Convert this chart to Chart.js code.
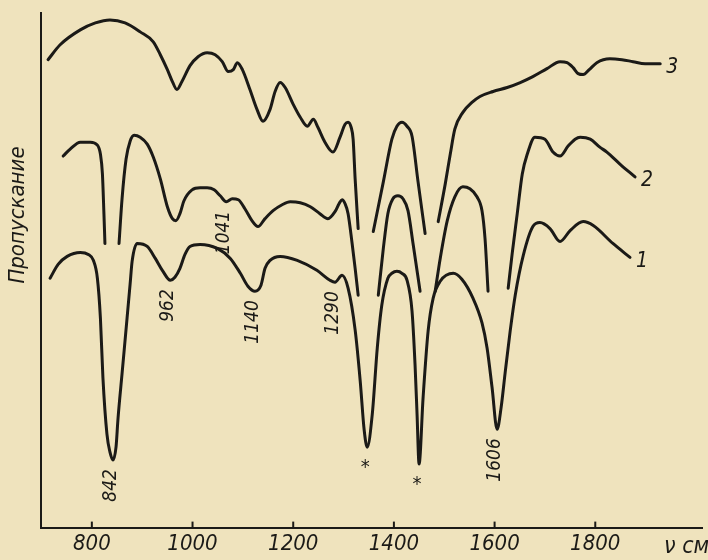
<!DOCTYPE html>
<html>
<head>
<meta charset="utf-8">
<script src="https://cdn.jsdelivr.net/npm/chart.js@4.4.1/dist/chart.umd.min.js"></script>
<style>
  html, body { margin: 0; padding: 0; background: #efe3bd; }
  canvas { display: block; }
</style>
</head>
<body>
<canvas id="c" width="708" height="560"></canvas>
<script>
// ---- data (wavenumber, cm^-1 ; transmission, arbitrary units) ----
const tickValues = [800, 1000, 1200, 1400, 1600, 1800];

const curve1Wn = [717,733,751,777,793,803,811,817,822,830, 836,842,848,852,860,870,876,880,890,910,
  926,940,956,965,975,985,995,1015,1049,1075, 1095,1110,1124,1136,1144,1154,1174,1208,1247,1273,
  1283,1297,1309,1323,1333,1341,1347,1357,1367,1376, 1388,1396,1406,1416,1426,1436,1442,1446,1450,1458,
  1468,1478,1492,1518,1535,1557,1575,1585,1595,1605, 1613,1621,1631,1641,1657,1676,1690,1710,1730,1750,
  1776,1796,1835,1869];
const curve1T = [251,265,273,277,275,269,251,211,151,94, 76,68,81,110,155,211,245,268,286,283,
  271,259,249,252,261,275,283,285,281,271, 256,243,238,244,261,269,273,269,259,249,
  247,254,241,199,148,98,81,114,181,224, 251,256,258,256,249,218,164,114,64,131,
  198,231,248,256,250,231,206,181,141,99, 121,156,198,234,274,303,307,301,288,299,
  308,304,286,272];

const curve2Wn = [743,757,777,797,811,817,821,824,826, 840,
  854,860,868,876,884,896,910,922,936,950, 960,967,975,983,999,1015,1029,1043,1055,1067,
  1079,1091,1104,1118,1130,1144,1160,1178,1194,1214, 1234,1253,1269,1283,1291,1297,1303,1309,1317,1323,
  1329, 1349,
  1369,1379,1388,1398,1408,1418,1428,1438,1452, 1467,
  1482,1492,1506,1521,1537,1551,1565,1575,1581,1587, 1607,
  1627,1635,1645,1655,1665,1680,1700,1716,1730,1746, 1760,1770,1790,1809,1823,1849,1879];
const curve2T = [374,381,388,388,385,376,356,316,286, null,
  286,331,371,389,395,393,386,373,351,323, 311,309,316,329,340,342,342,340,334,328,
  331,330,321,309,303,311,319,325,328,327, 323,316,311,318,326,330,326,316,286,261,
  234, null,
  234,281,316,331,334,331,319,286,238, null,
  238,271,309,333,343,341,333,319,291,238, null,
  241,276,316,356,376,393,391,378,374,384, 391,393,391,383,378,366,353];

const curve3Wn = [713,737,777,807,836,866,896,922,936,950, 960,969,979,995,1011,1029,1045,1059,1071,1081,
  1089,1099,1114,1128,1140,1154,1164,1174,1184,1200, 1214,1228,1240,1249,1263,1279,1293,1303,1309,1315,
  1319,1323,1329, 1344,
  1359,1379,1396,1406,1416,1426,1436,1448,1462, 1475,
  1488,1502,1512,1521,1537,1555,1571,1597,1625,1651, 1676,1704,1730,1744,1756,1766,1776,1788,1803,1829,
  1853,1875,1899,1929];
const curve3T = [471,486,501,508,511,508,499,489,476,461, 449,441,449,465,474,478,476,469,459,461,
  468,461,441,421,409,421,439,448,443,426, 413,404,411,403,388,378,393,406,408,403,
  391,351,301, null,
  298,348,391,404,408,404,394,348,296, null,
  308,346,376,401,418,428,434,439,443,448, 454,462,469,468,463,457,456,461,468,472,
  471,469,467,467];

const curveNames = ['1', '2', '3'];

// band labels: text, curve it belongs to, wavenumber of the band point
const bandLabels = ['842', '962', '1041', '1140', '1290', '1606'];
const bandCurves = [1, 1, 2, 1, 1, 1];
const bandWn = [842, 956, 1067, 1124, 1283, 1605];
// solvent bands marked with asterisks
const starWn = [1347, 1450];

const yTitle = 'Пропускание';
const xUnit = 'ν см⁻¹';

// ---- chart ----
const INK = '#1b1a17';
const FONT = "'Liberation Sans Narrow', 'DejaVu Sans Condensed', 'Liberation Sans', sans-serif";
const curves = [[curve1Wn, curve1T], [curve2Wn, curve2T], [curve3Wn, curve3T]];
const toPoints = (wn, t) => wn.map((x, i) => ({ x: x, y: t[i] }));
const valueAt = (ci, wn) => { const c = curves[ci - 1]; return c[1][c[0].indexOf(wn)]; };

const decor = {
  id: 'decor',
  beforeDraw(chart) {
    const ctx = chart.ctx;
    ctx.save();
    ctx.fillStyle = '#efe3bd';
    ctx.fillRect(0, 0, chart.width, chart.height);
    ctx.restore();
  },
  afterDraw(chart) {
    const ctx = chart.ctx;
    const xs = chart.scales.x, ys = chart.scales.y;
    ctx.save();
    ctx.fillStyle = INK;
    ctx.strokeStyle = INK;
    // inward tick marks
    ctx.lineWidth = 2;
    tickValues.forEach(v => {
      const px = xs.getPixelForValue(v);
      ctx.beginPath();
      ctx.moveTo(px, ys.bottom);
      ctx.lineTo(px, ys.bottom - 6);
      ctx.stroke();
    });
    // band labels, rotated, hanging under each band
    ctx.font = 'italic 19px ' + FONT;
    bandLabels.forEach((t, i) => {
      const px = xs.getPixelForValue(bandWn[i]) - 2;
      const py = ys.getPixelForValue(valueAt(bandCurves[i], bandWn[i])) + 9;
      ctx.save();
      ctx.translate(px, py);
      ctx.rotate(-Math.PI / 2);
      ctx.textAlign = 'right';
      ctx.textBaseline = 'middle';
      ctx.fillText(t, 0, 0);
      ctx.restore();
    });
    // asterisks
    ctx.font = '20px ' + FONT;
    ctx.textAlign = 'center';
    ctx.textBaseline = 'top';
    starWn.forEach(w => {
      const px = xs.getPixelForValue(w) - 2;
      const py = ys.getPixelForValue(valueAt(1, w)) + 11;
      ctx.fillText('*', px, py);
    });
    // curve numbers at the right end of each curve
    ctx.font = 'italic 21px ' + FONT;
    ctx.textAlign = 'left';
    ctx.textBaseline = 'middle';
    curves.forEach((c, i) => {
      const n = c[0].length - 1;
      const px = xs.getPixelForValue(c[0][n]) + 6;
      const py = ys.getPixelForValue(c[1][n]) + 4;
      ctx.fillText(curveNames[i], px, py);
    });
    // y axis title
    ctx.save();
    ctx.translate(18, 215);
    ctx.rotate(-Math.PI / 2);
    ctx.font = 'italic 22px ' + FONT;
    ctx.textAlign = 'center';
    ctx.textBaseline = 'middle';
    ctx.fillText(yTitle, 0, 0);
    ctx.restore();
    // x unit
    ctx.font = 'italic 23px ' + FONT;
    ctx.textAlign = 'left';
    ctx.textBaseline = 'middle';
    ctx.fillText(xUnit, 664, 547);
    ctx.restore();
  }
};

new Chart(document.getElementById('c'), {
  type: 'line',
  data: {
    datasets: curves.map((c, i) => ({
      label: curveNames[i],
      data: toPoints(c[0], c[1]),
      borderColor: INK,
      borderWidth: 3,
      pointRadius: 0,
      fill: false,
      spanGaps: false,
      cubicInterpolationMode: 'monotone'
    }))
  },
  options: {
    responsive: false,
    animation: false,
    layout: { padding: { left: 41, top: 13, right: 6, bottom: 0 } },
    plugins: { legend: { display: false }, tooltip: { enabled: false } },
    elements: { line: { borderCapStyle: 'round', borderJoinStyle: 'round' } },
    scales: {
      x: {
        type: 'linear',
        min: 699,
        max: 2012,
        grid: { display: false, drawTicks: false },
        border: { display: true, color: INK, width: 2 },
        afterBuildTicks: s => { s.ticks = tickValues.map(v => ({ value: v })); },
        ticks: {
          autoSkip: false,
          maxRotation: 0,
          padding: 3,
          color: INK,
          font: { family: FONT, size: 22, style: 'italic' },
          callback: v => String(v)
        }
      },
      y: {
        min: 0,
        max: 518,
        grid: { display: false, drawTicks: false },
        border: { display: true, color: INK, width: 2 },
        ticks: { display: false }
      }
    }
  },
  plugins: [decor]
});
</script>
</body>
</html>
